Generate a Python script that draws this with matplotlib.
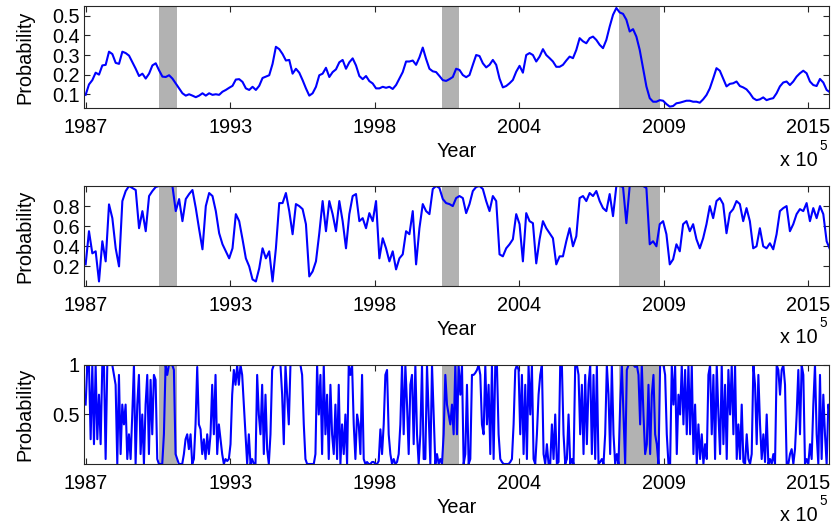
import numpy as np
import matplotlib
matplotlib.use('Agg')
import matplotlib.pyplot as plt

plt.rcParams['font.family'] = ['Liberation Sans', 'DejaVu Sans']

# sample dates (decimal years) spanning the plotted window
t_start, t_end = 1987.707, 2015.917

# smoothed probability, top panel
prob_smooth = [
    0.097, 0.15, 0.172, 0.21, 0.20, 0.247, 0.25, 0.317, 0.305, 0.26, 0.255, 0.317,
    0.31, 0.297, 0.263, 0.23, 0.193, 0.205, 0.18, 0.205, 0.247, 0.258, 0.222, 0.19,
    0.188, 0.197, 0.18, 0.155, 0.13, 0.105, 0.093, 0.10, 0.093, 0.085, 0.093, 0.105,
    0.093, 0.105, 0.097, 0.10, 0.097, 0.113, 0.122, 0.133, 0.143, 0.175, 0.177, 0.163,
    0.13, 0.122, 0.138, 0.122, 0.143, 0.183, 0.19, 0.197, 0.255, 0.342, 0.33, 0.305,
    0.272, 0.275, 0.205, 0.23, 0.21, 0.172, 0.13, 0.093, 0.105, 0.138, 0.197, 0.205,
    0.235, 0.188, 0.213, 0.227, 0.263, 0.275, 0.23, 0.263, 0.283, 0.247, 0.193, 0.177,
    0.193, 0.167, 0.155, 0.13, 0.13, 0.138, 0.133, 0.138, 0.127, 0.147, 0.18, 0.213,
    0.267, 0.267, 0.272, 0.25, 0.288, 0.338, 0.28, 0.23, 0.217, 0.213, 0.193, 0.172,
    0.168, 0.177, 0.188, 0.23,
    0.224, 0.198, 0.187, 0.198, 0.25, 0.30, 0.295, 0.258, 0.237, 0.25, 0.275, 0.25,
    0.18, 0.135, 0.142, 0.156, 0.173, 0.215, 0.245, 0.21, 0.30, 0.31, 0.30, 0.267,
    0.292, 0.33, 0.30, 0.284, 0.267, 0.24, 0.24, 0.25, 0.272, 0.292, 0.284, 0.326,
    0.386, 0.37, 0.36, 0.386, 0.394, 0.377, 0.352, 0.335, 0.377, 0.445, 0.505, 0.54,
    0.517, 0.51, 0.48, 0.42, 0.432, 0.394, 0.326, 0.233, 0.14, 0.08, 0.062, 0.062,
    0.07, 0.067, 0.05, 0.037, 0.04, 0.054, 0.057, 0.062, 0.067, 0.067, 0.062, 0.062,
    0.057, 0.074, 0.096, 0.13, 0.18, 0.233, 0.22, 0.18, 0.14, 0.153, 0.156, 0.165,
    0.142, 0.135, 0.125, 0.105, 0.08, 0.07, 0.074, 0.084, 0.07, 0.076, 0.08, 0.105,
    0.14, 0.16, 0.165, 0.147, 0.165, 0.19, 0.207, 0.22, 0.207, 0.165, 0.147, 0.142,
    0.178, 0.16, 0.122, 0.11,
]

# filtered probability, middle panel
prob_filter = [
    0.22, 0.55, 0.33, 0.35, 0.05, 0.45, 0.25, 0.817, 0.68, 0.38, 0.2, 0.85,
    0.95, 1.0, 0.98, 0.96, 0.58, 0.75, 0.55, 0.9, 0.95, 0.99, 1.0, 1.0,
    1.0, 1.0, 1.0, 0.75, 0.87, 0.65, 0.87, 0.92, 0.96, 0.78, 0.57, 0.37,
    0.8, 0.93, 0.9, 0.75, 0.53, 0.42, 0.35, 0.28, 0.38, 0.72, 0.65, 0.47,
    0.28, 0.2, 0.07, 0.05, 0.18, 0.38, 0.28, 0.35, 0.05, 0.38, 0.83, 0.83,
    0.93, 0.75, 0.52, 0.82, 0.8, 0.77, 0.62, 0.1, 0.15, 0.25, 0.53, 0.85,
    0.55, 0.85, 0.72, 0.55, 0.85, 0.65, 0.38, 0.72, 0.9, 0.92, 0.65, 0.68,
    0.58, 0.73, 0.65, 0.85, 0.28, 0.48, 0.38, 0.25, 0.35, 0.17, 0.28, 0.32,
    0.55, 0.52, 0.75, 0.22, 0.58, 0.82, 0.75, 0.72, 0.97, 1.0, 0.98, 0.87,
    0.83, 0.82, 0.8, 0.88,
    0.9, 0.88, 0.73, 0.82, 0.95, 0.99, 1.0, 0.97, 0.85, 0.75, 0.9, 0.85,
    0.32, 0.3, 0.38, 0.42, 0.47, 0.72, 0.62, 0.25, 0.73, 0.65, 0.63, 0.23,
    0.47, 0.65, 0.58, 0.53, 0.48, 0.22, 0.3, 0.3, 0.45, 0.58, 0.4, 0.5,
    0.88, 0.9, 0.85, 0.93, 0.9, 0.95, 0.85, 0.78, 0.75, 0.92, 0.7, 1.0,
    1.0, 0.99, 0.63, 1.0, 1.0, 1.0, 1.0, 1.0, 0.98, 0.42, 0.45, 0.4,
    0.62, 0.65, 0.52, 0.22, 0.27, 0.42, 0.35, 0.62, 0.65, 0.55, 0.62, 0.47,
    0.38, 0.48, 0.62, 0.8, 0.68, 0.85, 0.88, 0.82, 0.53, 0.73, 0.77, 0.85,
    0.82, 0.65, 0.78, 0.65, 0.38, 0.4, 0.58, 0.4, 0.38, 0.43, 0.37, 0.52,
    0.75, 0.78, 0.8, 0.55, 0.62, 0.72, 0.77, 0.75, 0.83, 0.65, 0.78, 0.68,
    0.8, 0.72, 0.45, 0.37,
]

# regime probability, bottom panel
prob_regime = [
    0.6, 1, 1, 0.25, 1, 0.2, 1, 0.25, 0.7, 0.2, 1, 1, 0.05, 1, 1, 1, 1, 0.9, 0.8, 0.0,
    0.9, 0.1, 0.6, 0.4, 0.6, 0.05, 0.3, 0.05, 0.5, 1, 0.0, 0.6, 0.9, 0.1, 0.5, 0.0,
    0.6, 0.9, 0.1, 0.85, 0.3, 0.9, 0.85, 0.05, 0.0, 0.0, 0.0, 0.3, 1, 0.9, 1, 1,
    1, 0.95, 0.1, 0.05, 0.0, 0.0, 0.0, 0.1, 0.25, 0.3, 0.15, 0.3, 0.0, 0.05, 0.4, 0.98,
    0.4, 0.35, 0.1, 0.25, 0.05, 0.3, 0.1, 0.3, 0.8, 0.3, 0.9, 0.1, 0.4, 0.25, 0.1, 0.0,
    0.05, 0.03, 0.05, 0.2, 0.7, 0.95, 0.8, 1, 0.8, 1, 0.9, 0.6, 0.3, 0.0, 0.3, 0.0,
    0.05, 0.0, 0.0, 0.9, 0.5, 0.3, 0.8, 0.1, 0.7, 0.15, 0.0, 0.3, 0.95, 1, 1, 1,
    1, 1, 0.7, 0.2, 1, 0.7, 0.4, 1, 1, 1, 1, 1, 1, 1, 0.9, 0.4, 0.05, 0.0,
    0.0, 0.0, 0.0, 0.0, 0.1, 1, 0.5, 0.9, 0.1, 1, 0.3, 0.7, 0.05, 0.8, 0.3, 0.1,
    0.6, 0.05, 0.8, 0.0, 0.4, 0.1, 0.5, 0.0, 1, 0.9, 1, 0.4, 0.05, 0.5, 0.4, 0.1,
    0.9, 0.05, 0.0, 0.02, 0.0, 0.0, 0.02, 0.02, 0.0, 0.0, 0.03, 0.35, 0.1, 0.4, 0.9, 0.95,
    0.3, 0.1, 0.0, 0.05, 0.0, 0.02, 0.1, 0.4, 1, 0.3, 1, 0.6, 0.1, 0.8, 0.9, 0.2,
    1, 0.3, 0.0, 0.3, 1, 0.05, 0.05, 1, 0.5, 0.0, 1, 0.5, 0.0, 0.1, 0.0, 0.05,
    0.0, 0.3, 0.9, 0.6, 0.5, 0.4, 0.6, 0.3, 1, 0.3, 1,
    0.7, 1, 0.0, 0.1, 0.8, 0.0, 0.05, 0.9, 0.9, 0.92, 0.95, 1, 0.9, 0.4, 0.3, 1,
    0.4, 0.8, 0.1, 1, 0.05, 1, 1, 0.3, 0.05, 0.02, 0.0, 0.0, 0.0, 0.0, 0.02, 0.05,
    0.4, 0.95, 1, 0.95, 0.3, 0.9, 0.1, 0.8, 0.05, 1, 0.5, 1, 0.05, 0.0, 0.3, 0.7,
    0.9, 1, 0.1, 0.0, 0.2, 0.0, 0.0, 0.4, 0.05, 0.5, 0.0, 0.02, 1, 1, 0.3, 0.0,
    0.05, 0.5, 0.0, 0.05, 0.0, 1, 1, 0.9, 0.3, 0.8, 0.1, 0.9, 0.2, 0.8, 1, 0.1,
    0.9, 0.05, 1, 0.0, 0.02, 0.05, 0.0, 0.3, 1, 0.7, 0.1, 1, 0.3, 0.0, 0.1, 0.0,
    0.6, 1, 0.5, 0.0, 0.95, 1, 1, 1, 1, 0.98, 1, 0.9, 0.4, 1, 0.5, 0.1,
    0.2, 0.8, 0.1, 0.7, 0.9, 0.3, 0.2, 0.0, 1, 1, 1, 0.9, 0.3, 0.0, 0.0, 1,
    0.6, 1, 0.1, 0.7, 0.5, 1, 0.4, 0.95, 0.3, 1, 0.3, 1, 0.1, 0.6, 0.0, 0.4,
    0.05, 0.3, 0.0, 0.2, 0.05, 0.9, 1, 0.3, 0.9, 0.05, 1, 0.5, 0.1, 1, 0.2, 0.8,
    0.05, 0.95, 0.5, 1, 0.3, 1, 0.05, 0.4, 0.05, 0.6, 0.02, 0.0, 0.3, 0.05, 0.0, 0.1,
    1, 0.8, 0.2, 0.9, 0.4, 0.05, 0.3, 0.02, 0.5, 0.0, 0.05, 0.0, 0.1, 0.0, 1, 0.95,
    0.7, 0.95, 1, 0.8, 0.0, 0.0, 0.1, 0.15, 0.0, 0.15, 0.5, 0.95, 0.3, 1, 0.9, 0.0,
    0.05, 0.0, 0.2, 0.05, 0.6, 1, 0.3, 0.0, 0.9, 0.05, 0.7, 0.3, 0.0, 0.6, 0.5,
]

# NBER recessions
recessions = [(1990.50, 1991.17), (2001.20, 2001.87), (2007.92, 2009.46)]

# tick positions are datenums 726000..736000 (step 2000), shown as years
tick_years = [1987.72, 1993.19, 1998.67, 2004.15, 2009.63, 2015.10]
tick_labels = ['1987', '1993', '1998', '2004', '2009', '2015']

panels = [
    (prob_smooth, (0.03, 0.55), [0.1, 0.2, 0.3, 0.4, 0.5], ['0.1', '0.2', '0.3', '0.4', '0.5']),
    (prob_filter, (0.005, 1.0), [0.2, 0.4, 0.6, 0.8], ['0.2', '0.4', '0.6', '0.8']),
    (prob_regime, (0.0, 1.0), [0.5, 1.0], ['0.5', '1']),
]
boxes = [(0.1007, 0.7947, 0.8933, 0.1939),
         (0.1007, 0.4563, 0.8933, 0.1901),
         (0.1007, 0.1179, 0.8933, 0.1882)]

fig = plt.figure(figsize=(8.34, 5.26), dpi=100)
fs = 14.3

for (vals, ylim, yt, ytl), box in zip(panels, boxes):
    ax = fig.add_axes(box)
    t = np.linspace(t_start, t_end, len(vals))
    for a, b in recessions:
        ax.axvspan(a, b, color='#b2b2b2', lw=0, zorder=1)
    ax.plot(t, vals, color='#0000ff', lw=1.5, zorder=2)
    ax.set_xlim(1987.644, 2015.88)
    ax.set_ylim(*ylim)
    ax.set_xticks(tick_years)
    ax.set_xticklabels(tick_labels)
    ax.set_yticks(yt)
    ax.set_yticklabels(ytl)
    ax.tick_params(direction='in', length=4, width=0.8, top=True, right=True,
                   labelsize=fs, colors='#262626')
    ax.tick_params(axis='x', pad=7.5, labelcolor='black')
    ax.tick_params(axis='y', pad=3, labelcolor='black')
    for s in ax.spines.values():
        s.set_linewidth(0.8)
        s.set_color('#262626')
    ax.set_ylabel('Probability', fontsize=fs, labelpad=13)
    ax.set_xlabel('Year', fontsize=fs, labelpad=3)
    ax.text(0.985, -0.42, 'x 10', transform=ax.transAxes, fontsize=fs,
            ha='right', va='top')
    ax.text(0.997, -0.305, '5', transform=ax.transAxes, fontsize=fs * 0.68,
            ha='right', va='top')

fig.savefig('out.png', dpi=100)
